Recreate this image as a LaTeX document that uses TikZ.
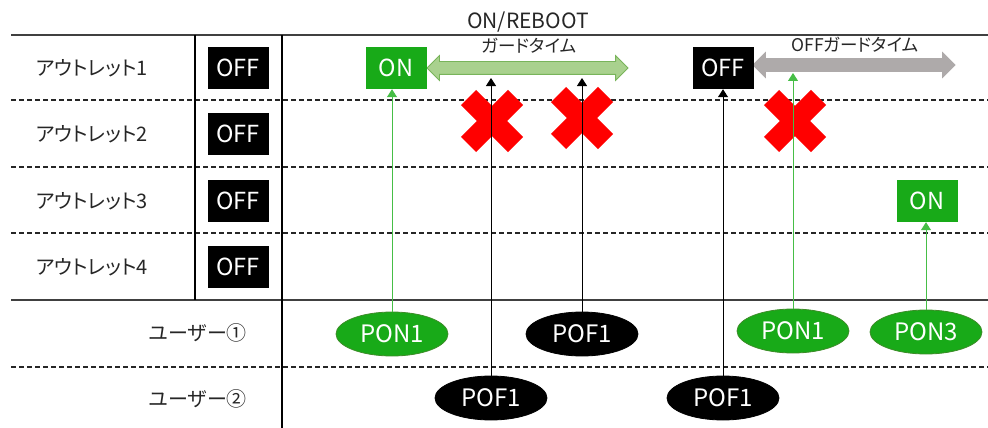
\documentclass[tikz,border=0pt]{standalone}
\usepackage{fontspec}
\setmainfont{Noto Sans CJK JP}[RawFeature=+palt]
\usetikzlibrary{shapes.geometric,shapes.arrows,arrows.meta}
\definecolor{onGreen}{RGB}{24,170,24}
\definecolor{onEdge}{RGB}{60,140,40}
\definecolor{guardFill}{RGB}{169,209,142}
\definecolor{guardEdge}{RGB}{120,180,90}
\definecolor{offGray}{RGB}{174,170,170}
\definecolor{lineGreen}{RGB}{70,190,70}
\definecolor{crossRed}{RGB}{255,0,0}
\definecolor{gridDark}{RGB}{64,64,64}
\definecolor{labelInk}{RGB}{38,38,38}

\begin{document}
\begin{tikzpicture}[x=1pt,y=-1pt,
  rowlabel/.style={text=labelInk,font=\fontsize{20}{20}\selectfont},
  statebox/.style={fill=black,text=white,minimum width=61pt,minimum height=42pt,
    inner sep=0pt,font=\fontsize{23.5}{23.5}\selectfont},
  onbox/.style={statebox,fill=onGreen},
  ponell/.style={ellipse,fill=onGreen,draw=onEdge,line width=0.8pt,text=white,
    minimum width=112pt,minimum height=44pt,inner sep=0pt,font=\fontsize{24}{24}\selectfont},
  pofell/.style={ponell,fill=black,draw=black},
  guardarrow/.style={double arrow,double arrow head extend=6pt,inner xsep=0pt,
    inner ysep=6pt,line width=0.8pt},
  solidrule/.style={gridDark,line width=1.5pt},
  dashrule/.style={black!85,line width=1.4pt,dash pattern=on 5pt off 3pt},
  colrule/.style={black,line width=1.2pt},
  greenarrow/.style={lineGreen,line width=1pt,-{Triangle[width=10pt,length=8pt]}},
  blackarrow/.style={black,line width=1pt,-{Triangle[width=10pt,length=8pt]}},
  redx/.pic={\draw[crossRed,line width=21.5pt]
    (-23.5,-23.5) -- (23.5,23.5) (-23.5,23.5) -- (23.5,-23.5);}
]
\useasboundingbox (0,0) rectangle (988,428);

% table rules
\draw[solidrule] (11,35) -- (988,35);
\draw[solidrule] (11,300) -- (988,300);
\foreach \yy in {100,167,233,367}
  \draw[dashrule] (11,\yy) -- (988,\yy);
\draw[colrule] (195,35) -- (195,300);
\draw[colrule] (282,35) -- (282,428);

% outlet rows
\foreach \k/\yy in {1/68,2/134,3/201,4/267}{
  \node[rowlabel] (lab\k) at (92,\yy) {アウトレット\k};
  \node[statebox] (init\k) at (238,\yy) {OFF};
}

% users
\node[rowlabel] (usr1) at (198,333) {ユーザー①};
\node[rowlabel] (usr2) at (198,399) {ユーザー②};

% guard-time headings
\node[text=labelInk,font=\fontsize{21}{21}\selectfont] (ttlA) at (528,22) {ON/REBOOT};
\node[text=labelInk,font=\fontsize{17.5}{17.5}\selectfont] (ttlB) at (529,46) {ガードタイム};
\node[text=labelInk,font=\fontsize{17.5}{17.5}\selectfont] (ttlC) at (855,45) {OFFガードタイム};

% guard-time spans
\node[guardarrow,fill=guardFill,draw=guardEdge,minimum height=201pt] (gOn) at (527.5,68) {};
\node[guardarrow,fill=offGray,draw=offGray,minimum height=202pt] (gOff) at (854,65) {};

% outlet state changes
\node[onbox] (on1) at (396,68) {ON};
\node[statebox] (off1) at (723,68) {OFF};
\node[onbox] (on3) at (927,201) {ON};

% rejected requests
\pic at (492,121) {redx};
\pic at (582,118) {redx};
\pic at (795,121) {redx};

% user requests
\node[ponell] (pA) at (392,334) {PON1};
\node[pofell] (qB) at (582,334) {POF1};
\node[ponell] (pB) at (793,331) {PON1};
\node[ponell] (pC) at (926,332) {PON3};
\node[pofell] (qA) at (491,398) {POF1};
\node[pofell] (qC) at (723,398) {POF1};

% arrow ends under the guard spans
\coordinate (tipOn) at (0,78);
\coordinate (tipOff) at (0,73);

\draw[greenarrow] (pA.north) -- (pA.north |- on1.south);
\draw[blackarrow] (qA.north) -- (qA.north |- tipOn);
\draw[blackarrow] (qB.north) -- (qB.north |- tipOn);
\draw[blackarrow] (qC.north) -- (qC.north |- off1.south);
\draw[greenarrow] (pB.north) -- (pB.north |- tipOff);
\draw[greenarrow] (pC.north) -- (pC.north |- on3.south);
\end{tikzpicture}
\end{document}
